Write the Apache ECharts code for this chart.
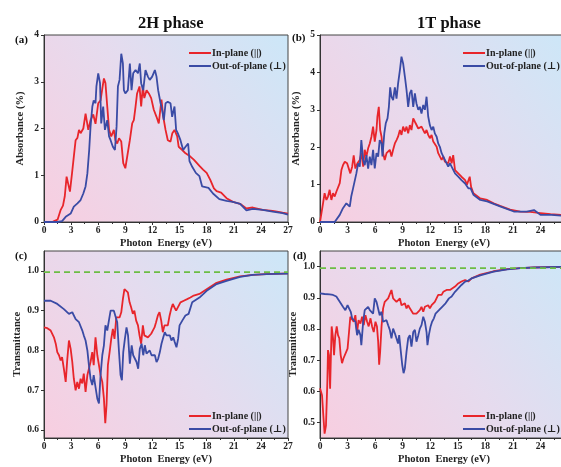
<!DOCTYPE html>
<html>
<head>
<meta charset="utf-8">
<script src="https://cdn.jsdelivr.net/npm/echarts@6/dist/echarts.min.js"></script>
<style>
html, body { margin: 0; padding: 0; background: #fff; }
#main { width: 561px; height: 467px; }
</style>
</head>
<body>
<div id="main"></div>
<script>
// absorbance, 2H phase (a)
var absInA = [[0,0],[1.0,0.01],[1.5,0.05],[1.85,0.26],[2.1,0.35],[2.3,0.55],[2.5,0.97],[2.7,0.93],[2.87,0.65],[3.1,1.04],[3.3,1.4],[3.5,1.75],[3.7,1.8],[3.87,1.97],[4.05,1.9],[4.35,2.0],[4.6,2.32],[4.9,1.97],[5.15,2.18],[5.45,2.3],[5.7,2.1],[6.0,2.54],[6.26,2.6],[6.45,2.85],[6.63,3.07],[6.8,2.97],[7.0,2.47],[7.2,1.97],[7.44,1.83],[7.73,1.97],[7.9,1.75],[8.1,1.68],[8.3,1.79],[8.55,1.72],[8.77,1.26],[9.0,1.15],[9.2,1.15],[9.5,1.75],[9.76,2.11],[9.94,2.18],[10.13,2.47],[10.3,2.75],[10.57,2.9],[10.75,2.47],[10.94,2.9],[11.1,2.65],[11.35,2.82],[11.6,2.75],[11.86,2.65],[12.15,2.4],[12.45,2.25],[12.7,2.11],[13.0,2.62],[13.2,2.25],[13.45,1.97],[13.7,1.75],[14.0,1.72],[14.2,1.9],[14.44,1.97],[14.74,1.83],[14.9,1.61],[15.3,1.54],[15.66,1.47],[16.2,1.4],[16.6,1.33],[17.2,1.2],[17.6,1.12],[18.0,1.05],[18.4,0.9],[18.8,0.72],[19.1,0.66],[19.6,0.63],[20.2,0.51],[20.9,0.43],[21.7,0.39],[22.4,0.29],[23.1,0.31],[24.2,0.26],[25.3,0.24],[26.4,0.2],[27,0.18]];
var absOutA = [[0,0],[1.5,0],[2.0,0.02],[2.4,0.11],[2.95,0.18],[3.3,0.33],[3.7,0.4],[4.05,0.47],[4.35,0.61],[4.6,0.76],[4.8,1.04],[5.0,1.54],[5.15,2.04],[5.35,2.47],[5.5,2.6],[5.7,2.54],[5.8,2.9],[6.0,3.18],[6.2,2.97],[6.33,2.11],[6.55,2.47],[6.74,1.97],[7.0,2.18],[7.2,1.83],[7.37,1.75],[7.62,1.61],[7.85,1.54],[8.03,2.04],[8.18,2.9],[8.36,3.04],[8.55,3.6],[8.73,3.39],[8.84,2.82],[9.0,2.75],[9.28,2.82],[9.5,3.39],[9.69,2.82],[9.87,3.18],[10.13,3.25],[10.4,3.18],[10.6,3.39],[10.75,2.97],[10.98,2.82],[11.23,3.25],[11.5,3.11],[11.7,3.04],[11.97,3.11],[12.27,3.25],[12.45,3.11],[12.63,2.82],[12.9,2.54],[13.07,2.4],[13.26,2.18],[13.45,2.54],[13.7,2.57],[14.0,2.54],[14.18,2.25],[14.44,2.47],[14.62,1.97],[14.8,1.9],[15.1,1.75],[15.4,1.54],[15.66,1.61],[15.95,1.68],[16.1,1.3],[16.4,1.18],[16.8,1.05],[17.2,0.98],[17.5,0.76],[18.2,0.73],[18.7,0.61],[19.4,0.49],[20.2,0.45],[20.9,0.43],[21.7,0.39],[22.4,0.25],[23.1,0.28],[24.2,0.26],[25.3,0.22],[26.4,0.19],[27,0.16]];

// absorbance, 1T phase (b)
var absInB = [[0,0],[0.15,0.05],[0.33,0.5],[0.5,0.77],[0.7,0.59],[0.87,0.68],[1.05,0.86],[1.24,0.59],[1.42,0.77],[1.6,0.68],[1.78,0.81],[1.96,0.77],[2.15,1.04],[2.33,1.39],[2.5,1.52],[2.7,1.61],[2.95,1.57],[3.16,1.61],[3.3,1.3],[3.5,1.48],[3.67,1.78],[3.85,1.43],[4.07,1.57],[4.33,1.66],[4.5,1.84],[4.7,1.48],[4.87,1.93],[5.05,1.75],[5.24,1.97],[5.42,2.1],[5.6,2.28],[5.78,2.55],[5.96,2.15],[6.15,2.46],[6.25,2.82],[6.4,3.08],[6.55,2.46],[6.7,2.28],[6.87,1.84],[7.05,1.66],[7.24,1.84],[7.42,1.79],[7.6,1.93],[7.78,1.75],[7.96,1.93],[8.15,2.1],[8.33,2.19],[8.5,2.28],[8.7,2.46],[8.87,2.33],[9.05,2.55],[9.24,2.42],[9.42,2.55],[9.6,2.37],[9.78,2.59],[9.96,2.46],[10.15,2.77],[10.33,2.68],[10.5,2.64],[10.7,2.5],[10.87,2.46],[11.05,2.55],[11.24,2.5],[11.42,2.37],[11.6,2.46],[11.78,2.33],[11.96,2.24],[12.15,2.33],[12.33,2.15],[12.5,2.19],[12.7,2.01],[12.87,1.84],[13.05,1.79],[13.24,1.66],[13.42,1.75],[13.6,1.61],[13.78,1.66],[13.96,1.57],[14.15,1.75],[14.33,1.57],[14.5,1.79],[14.7,1.39],[15.05,1.3],[15.4,1.21],[15.8,1.12],[16.0,1.0],[16.3,1.21],[16.45,0.94],[16.7,0.77],[17.45,0.63],[18.2,0.59],[18.9,0.5],[19.6,0.43],[20.7,0.33],[21.8,0.28],[22.9,0.27],[24,0.24],[25.1,0.21],[26.3,0.19],[27,0.18]];
var absOutB = [[0,0],[1.6,0],[1.78,0.05],[2.15,0.19],[2.5,0.37],[2.87,0.5],[3.05,0.45],[3.24,0.41],[3.4,0.68],[3.6,0.9],[3.78,0.95],[3.96,1.3],[4.15,1.57],[4.33,1.48],[4.5,2.19],[4.7,1.66],[4.87,1.52],[5.05,1.79],[5.24,1.43],[5.42,1.75],[5.6,1.52],[5.78,1.93],[5.96,1.43],[6.15,1.84],[6.33,1.75],[6.5,2.19],[6.7,2.1],[6.8,1.75],[7.0,2.37],[7.16,2.64],[7.35,2.77],[7.5,3.08],[7.64,3.6],[7.78,3.35],[7.96,3.26],[8.15,3.6],[8.33,3.3],[8.5,3.7],[8.7,4.06],[8.87,4.42],[9.05,4.24],[9.24,3.89],[9.42,3.53],[9.6,3.08],[9.78,3.44],[9.96,3.53],[10.15,3.08],[10.33,3.44],[10.5,3.17],[10.7,3.0],[10.87,3.08],[11.05,2.9],[11.24,3.13],[11.42,3.0],[11.6,3.35],[11.78,2.82],[11.96,2.59],[12.15,2.46],[12.33,2.55],[12.5,2.37],[12.7,2.28],[12.87,2.1],[13.05,2.01],[13.24,1.84],[13.42,1.79],[13.6,1.66],[13.78,1.61],[13.96,1.48],[14.15,1.57],[14.33,1.48],[14.7,1.3],[15.05,1.21],[15.4,1.12],[15.8,1.03],[16.15,0.9],[16.4,0.9],[16.7,0.73],[17.45,0.59],[18.2,0.55],[19.6,0.42],[21.1,0.28],[22.5,0.28],[23.3,0.32],[24,0.19],[25.2,0.19],[26.3,0.17],[27,0.18]];

// transmittance, 2H phase (c)
var transInC = [[0,0.858],[0.37,0.856],[0.74,0.85],[1.1,0.833],[1.3,0.817],[1.47,0.796],[1.66,0.788],[1.84,0.775],[2.0,0.783],[2.2,0.754],[2.4,0.721],[2.58,0.779],[2.76,0.825],[2.95,0.804],[3.13,0.771],[3.3,0.729],[3.5,0.7],[3.68,0.721],[3.87,0.704],[4.05,0.729],[4.24,0.717],[4.4,0.742],[4.6,0.696],[4.8,0.738],[4.97,0.742],[5.15,0.771],[5.34,0.796],[5.5,0.763],[5.7,0.833],[5.9,0.788],[6.08,0.763],[6.26,0.738],[6.45,0.721],[6.63,0.679],[6.78,0.617],[6.92,0.663],[7.07,0.763],[7.26,0.796],[7.44,0.829],[7.62,0.854],[7.8,0.829],[8.0,0.883],[8.18,0.888],[8.36,0.883],[8.55,0.896],[8.73,0.929],[8.9,0.954],[9.1,0.958],[9.28,0.946],[9.47,0.921],[9.65,0.908],[9.83,0.892],[10.0,0.9],[10.2,0.875],[10.4,0.863],[10.57,0.838],[10.75,0.817],[10.94,0.863],[11.1,0.838],[11.3,0.842],[11.5,0.833],[11.67,0.838],[11.86,0.842],[12.04,0.85],[12.23,0.858],[12.4,0.871],[12.6,0.888],[12.78,0.896],[12.97,0.875],[13.15,0.846],[13.33,0.863],[13.5,0.867],[13.7,0.863],[13.9,0.888],[14.07,0.904],[14.25,0.917],[14.44,0.908],[14.62,0.9],[14.8,0.904],[15.1,0.921],[15.47,0.925],[15.84,0.929],[16.2,0.933],[16.57,0.938],[17.2,0.942],[18.0,0.954],[19.1,0.97],[20.2,0.978],[21.7,0.986],[23.1,0.99],[24.6,0.992],[27,0.994]];
var transOutC = [[0,0.925],[0.74,0.925],[1.47,0.917],[2.2,0.904],[2.76,0.892],[3.13,0.896],[3.5,0.879],[3.87,0.871],[4.24,0.85],[4.4,0.838],[4.6,0.825],[4.8,0.8],[4.97,0.763],[5.15,0.729],[5.34,0.713],[5.5,0.738],[5.7,0.708],[5.9,0.679],[6.08,0.667],[6.26,0.738],[6.45,0.788],[6.63,0.813],[6.8,0.863],[7.0,0.85],[7.18,0.875],[7.37,0.9],[7.55,0.904],[7.73,0.9],[7.92,0.904],[8.1,0.871],[8.3,0.796],[8.47,0.738],[8.62,0.725],[8.77,0.796],[8.95,0.829],[9.13,0.858],[9.3,0.838],[9.5,0.767],[9.7,0.813],[9.87,0.788],[10.05,0.792],[10.24,0.771],[10.42,0.754],[10.6,0.804],[10.8,0.817],[10.98,0.788],[11.16,0.813],[11.34,0.792],[11.53,0.788],[11.7,0.8],[11.9,0.788],[12.08,0.792],[12.27,0.788],[12.45,0.771],[12.63,0.779],[12.82,0.796],[13.0,0.817],[13.2,0.833],[13.37,0.846],[13.55,0.838],[13.74,0.833],[13.92,0.838],[14.1,0.825],[14.3,0.833],[14.47,0.821],[14.66,0.808],[14.84,0.829],[15.0,0.863],[15.3,0.875],[15.65,0.888],[16.0,0.892],[16.4,0.921],[16.57,0.925],[17.2,0.933],[18.0,0.95],[19.1,0.967],[20.2,0.975],[21.7,0.985],[23.1,0.99],[24.6,0.992],[27,0.993]];

// transmittance, 1T phase (d)
var transInD = [[0,0.61],[0.07,0.608],[0.22,0.587],[0.36,0.523],[0.5,0.464],[0.65,0.49],[0.8,0.63],[0.87,0.732],[0.98,0.716],[1.1,0.608],[1.16,0.68],[1.27,0.808],[1.42,0.77],[1.53,0.716],[1.67,0.78],[1.82,0.808],[1.96,0.78],[2.1,0.77],[2.25,0.716],[2.4,0.69],[2.55,0.705],[2.76,0.705],[3.0,0.737],[3.16,0.79],[3.3,0.839],[3.5,0.834],[3.67,0.823],[3.85,0.844],[4.04,0.79],[4.2,0.828],[4.4,0.817],[4.58,0.839],[4.76,0.812],[4.95,0.844],[5.13,0.823],[5.3,0.808],[5.5,0.834],[5.67,0.808],[5.85,0.79],[6.04,0.823],[6.2,0.808],[6.33,0.76],[6.44,0.685],[6.55,0.727],[6.7,0.808],[6.87,0.866],[7.05,0.887],[7.24,0.882],[7.42,0.898],[7.6,0.893],[7.78,0.925],[7.96,0.898],[8.15,0.904],[8.33,0.887],[8.5,0.882],[8.7,0.898],[8.87,0.876],[9.05,0.871],[9.24,0.882],[9.42,0.866],[9.6,0.876],[9.78,0.866],[9.96,0.871],[10.15,0.849],[10.33,0.844],[10.5,0.849],[10.7,0.855],[10.87,0.86],[11.05,0.871],[11.24,0.855],[11.42,0.871],[11.6,0.866],[11.78,0.876],[11.96,0.866],[12.15,0.876],[12.33,0.871],[12.5,0.887],[12.7,0.882],[12.87,0.909],[13.05,0.914],[13.24,0.909],[13.42,0.919],[13.6,0.914],[13.78,0.925],[13.96,0.93],[14.15,0.925],[14.33,0.93],[14.7,0.936],[15.05,0.946],[15.4,0.952],[15.8,0.957],[16.15,0.952],[16.5,0.962],[17.45,0.974],[18.9,0.985],[20.4,0.992],[21.8,0.995],[23.3,0.997],[26.3,0.999],[27,0.999]];
var transOutD = [[0,0.914],[0.5,0.912],[1.05,0.911],[1.42,0.909],[1.78,0.904],[2.15,0.887],[2.5,0.871],[2.76,0.86],[3.0,0.876],[3.16,0.882],[3.35,0.855],[3.5,0.834],[3.67,0.839],[3.85,0.823],[4.04,0.78],[4.2,0.797],[4.4,0.78],[4.5,0.748],[4.7,0.823],[4.87,0.86],[5.05,0.855],[5.24,0.871],[5.42,0.86],[5.6,0.866],[5.78,0.849],[5.96,0.898],[6.15,0.887],[6.33,0.882],[6.5,0.844],[6.7,0.855],[6.87,0.823],[7.05,0.817],[7.24,0.828],[7.42,0.812],[7.6,0.797],[7.78,0.77],[7.96,0.801],[8.15,0.786],[8.33,0.79],[8.5,0.753],[8.62,0.78],[8.8,0.727],[8.95,0.685],[9.1,0.658],[9.24,0.674],[9.42,0.727],[9.6,0.77],[9.78,0.78],[9.96,0.743],[10.15,0.79],[10.33,0.797],[10.5,0.759],[10.7,0.78],[10.87,0.801],[11.05,0.812],[11.24,0.839],[11.42,0.823],[11.6,0.79],[11.7,0.748],[11.85,0.78],[12.04,0.808],[12.2,0.823],[12.4,0.834],[12.58,0.849],[12.76,0.844],[12.95,0.86],[13.13,0.855],[13.3,0.871],[13.5,0.866],[13.67,0.882],[13.85,0.887],[14.04,0.898],[14.33,0.904],[14.7,0.919],[15.05,0.93],[15.4,0.941],[15.8,0.952],[16.15,0.955],[16.5,0.962],[17.45,0.972],[18.9,0.984],[20.4,0.991],[21.8,0.995],[23.3,0.997],[26.3,0.999],[27,0.999]];

var refLineC = 0.997;
var refLineD = 0.995;
var transTicksC = [0.6, 0.7, 0.8, 0.9, 1.0];
var transTicksD = [0.5, 0.6, 0.7, 0.8, 0.9, 1.0];

var NAME_IN = 'In-plane (||)';
var NAME_OUT = 'Out-of-plane (\u22A5)';
var RED = '#e8252b';
var BLUE = '#3a4ba5';
var FONT = "'Liberation Serif', 'DejaVu Serif', serif";

var chart = echarts.init(document.getElementById('main'));

var bg = {
	type: 'linear', x: 0, y: 1, x2: 1, y2: 0,
	colorStops: [
		{ offset: 0, color: '#f8cee0' },
		{ offset: 0.5, color: '#e6dbee' },
		{ offset: 1, color: '#cce7f8' }
	]
};

function makeGrid(left, top, width) {
	return {
		left: left, top: top, width: width, height: 187,
		outerBoundsMode: 'none', containLabel: false,
		show: true, backgroundColor: bg, borderColor: '#444', borderWidth: 1
	};
}

function makeX(i) {
	return {
		type: 'value', gridIndex: i, min: 0, max: 27, interval: 3,
		name: 'Photon  Energy (eV)', nameLocation: 'middle', nameGap: 16,
		nameTextStyle: { fontFamily: FONT, fontWeight: 'bold', fontSize: 10.5, color: '#222' },
		axisLine: { lineStyle: { color: '#333', width: 1 } },
		axisTick: { length: 3, lineStyle: { color: '#333' } },
		minorTick: { show: true, splitNumber: 2, length: 2, lineStyle: { color: '#333' } },
		axisLabel: { fontFamily: FONT, fontWeight: 'bold', fontSize: 9.5, color: '#222', margin: 4 },
		splitLine: { show: false }
	};
}

function makeY(i, name, min, max, interval, ticks) {
	var ax = {
		type: 'value', gridIndex: i, min: min, max: max,
		name: name, nameLocation: 'middle', nameGap: 18, nameRotate: 90,
		nameTextStyle: { fontFamily: FONT, fontWeight: 'bold', fontSize: 10.5, color: '#222' },
		axisLine: { lineStyle: { color: '#333', width: 1 } },
		axisTick: { length: 3, lineStyle: { color: '#333' } },
		axisLabel: { fontFamily: FONT, fontWeight: 'bold', fontSize: 9.5, color: '#222', margin: 5 },
		splitLine: { show: false }
	};
	if (ticks) {
		ax.axisTick.customValues = ticks;
		ax.axisLabel.customValues = ticks;
		ax.axisLabel.formatter = function(v) { return v.toFixed(1); };
	} else {
		ax.interval = interval;
	}
	return ax;
}

function makeLine(name, data, color, i) {
	return {
		name: name, type: 'line', xAxisIndex: i, yAxisIndex: i,
		data: data, symbol: 'none', smooth: false,
		lineStyle: { color: color, width: 1.8 }, itemStyle: { color: color },
		z: 3
	};
}

function makeRef(y, i) {
	return {
		type: 'line', xAxisIndex: i, yAxisIndex: i, data: [[0, y], [27, y]],
		symbol: 'none', silent: true,
		lineStyle: { color: '#6cbd45', width: 1.6, type: [6, 4] },
		z: 4
	};
}

function makeLegend(left, top) {
	return {
		left: left, top: top, orient: 'vertical', icon: 'rect',
		itemWidth: 22, itemHeight: 2, itemGap: 3,
		textStyle: { fontFamily: FONT, fontWeight: 'bold', fontSize: 10, color: '#222', padding: [0, 0, 0, -4] },
		data: [NAME_IN, NAME_OUT]
	};
}

function label(text, left, top, size) {
	return {
		text: text, left: left, top: top,
		textStyle: { fontFamily: FONT, fontWeight: 'bold', fontSize: size, color: '#111' }
	};
}

var option = {
	backgroundColor: '#fff',
	animation: false,
	title: [
		label('2H phase', 133, 10, 16.5),
		label('1T phase', 412, 10, 16.5),
		label('(a)', 10, 30, 11),
		label('(b)', 287, 28, 11),
		label('(c)', 10, 246, 11),
		label('(d)', 288, 246, 11)
	],
	legend: [
		makeLegend(184, 43),
		makeLegend(458, 43),
		makeLegend(184, 406),
		makeLegend(458, 406)
	],
	grid: [
		makeGrid(44, 35, 244),
		makeGrid(320, 35, 248),
		makeGrid(44, 251, 244),
		makeGrid(320, 251, 248)
	],
	xAxis: [makeX(0), makeX(1), makeX(2), makeX(3)],
	yAxis: [
		makeY(0, 'Absorbance (%)', 0, 4, 1),
		makeY(1, 'Absorbance (%)', 0, 5, 1),
		makeY(2, 'Transmittance', 0.58, 1.05, 0, transTicksC),
		makeY(3, 'Transmittance', 0.45, 1.05, 0, transTicksD)
	],
	series: [
		makeLine(NAME_IN, absInA, RED, 0),
		makeLine(NAME_OUT, absOutA, BLUE, 0),
		makeLine(NAME_IN, absInB, RED, 1),
		makeLine(NAME_OUT, absOutB, BLUE, 1),
		makeLine(NAME_IN, transInC, RED, 2),
		makeLine(NAME_OUT, transOutC, BLUE, 2),
		makeRef(refLineC, 2),
		makeLine(NAME_IN, transInD, RED, 3),
		makeLine(NAME_OUT, transOutD, BLUE, 3),
		makeRef(refLineD, 3)
	]
};
chart.setOption(option);
</script>
</body>
</html>
